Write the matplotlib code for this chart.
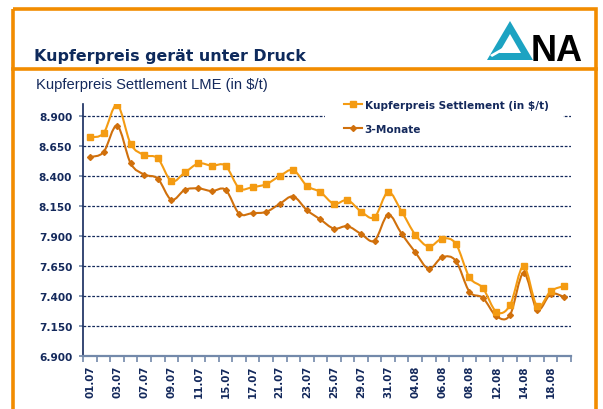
import matplotlib
matplotlib.use("Agg")
import matplotlib.pyplot as plt
from matplotlib.path import Path
from matplotlib.patches import PathPatch, Polygon, Rectangle
from matplotlib.lines import Line2D
from matplotlib.transforms import Affine2D

# Handelstage Juli/August 2008
dates = ['01.07', '02.07', '03.07', '04.07', '07.07', '08.07', '09.07', '10.07', '11.07',
         '14.07', '15.07', '16.07', '17.07', '18.07', '21.07', '22.07', '23.07', '24.07',
         '25.07', '28.07', '29.07', '30.07', '31.07', '01.08', '04.08', '05.08', '06.08',
         '07.08', '08.08', '11.08', '12.08', '13.08', '14.08', '15.08', '18.08', '19.08']

settlement = [8722, 8758, 8994, 8667, 8575, 8547, 8358, 8430, 8505, 8486, 8486, 8300,
              8308, 8333, 8400, 8450, 8319, 8267, 8169, 8200, 8105, 8058, 8267, 8105,
              7913, 7813, 7880, 7836, 7558, 7467, 7269, 7325, 7650, 7317, 7442, 7486]

three_month = [8558, 8600, 8819, 8505, 8413, 8378, 8203, 8286, 8297, 8275, 8286, 8088,
               8092, 8102, 8169, 8230, 8117, 8039, 7963, 7983, 7919, 7863, 8078, 7919,
               7767, 7628, 7725, 7694, 7438, 7386, 7233, 7244, 7594, 7289, 7419, 7394]

y_ticks = [6900, 7150, 7400, 7650, 7900, 8150, 8400, 8650, 8900]

ORANGE_FRAME = '#F28C00'
C_SETTLE = '#F49B12'
C_3M = '#D0700C'
NAVY = '#14295C'
AXIS_GREY = '#7389AA'
TEAL = '#1CA3C2'

W, H = 603, 410


def smooth_path(xs, ys):
    # Bezier-Glättung wie bei Excel "geglättete Linie"
    n = len(xs)
    verts = [(xs[0], ys[0])]
    codes = [Path.MOVETO]
    for i in range(n - 1):
        a = i - 1 if i > 0 else i
        d = i + 2 if i + 2 < n else i + 1
        c1 = (xs[i] + (xs[i + 1] - xs[a]) / 6, ys[i] + (ys[i + 1] - ys[a]) / 6)
        c2 = (xs[i + 1] - (xs[d] - xs[i]) / 6, ys[i + 1] - (ys[d] - ys[i]) / 6)
        verts += [c1, c2, (xs[i + 1], ys[i + 1])]
        codes += [Path.CURVE4] * 3
    return Path(verts, codes)


fig = plt.figure(figsize=(W / 100, H / 100), dpi=100)
fig.patch.set_facecolor('white')

# Pixel-Transform (Ursprung oben links)
px = Affine2D().scale(1 / W, -1 / H).translate(0, 1) + fig.transFigure

# Orangefarbener Rahmen
fig.add_artist(Rectangle((13, 10), 583, 420, transform=px, fill=False,
                         edgecolor=ORANGE_FRAME, linewidth=2.6, clip_on=False))
fig.add_artist(Line2D([13, 596], [69.5, 69.5], transform=px, color=ORANGE_FRAME,
                      linewidth=2.6))

# Titel
fig.text(34 / W, 1 - 61 / H, 'Kupferpreis gerät unter Druck', fontsize=11.4,
         fontweight='bold', family='DejaVu Sans', color='#0E2A5C',
         ha='left', va='baseline')
fig.text(36 / W, 1 - 89 / H, 'Kupferpreis Settlement LME (in $/t)', fontsize=10.6,
         family='Liberation Sans', color=NAVY, ha='left', va='baseline')

# Logo
fig.add_artist(Polygon([(487, 61), (510, 22), (533, 61)], closed=True, transform=px,
                       facecolor=TEAL, edgecolor='none'))
fig.add_artist(Polygon([(499, 54), (510, 35), (521, 54)], closed=True, transform=px,
                       facecolor='white', edgecolor='none'))
fig.add_artist(Polygon([(490, 56), (504, 48), (506, 50), (492, 58)], closed=True,
                       transform=px, facecolor='white', edgecolor='none'))
fig.text(531 / W, 1 - 61 / H, 'NA', fontsize=26, fontweight='heavy',
         family='Liberation Sans', color='black', ha='left', va='baseline')

# Diagramm
ax = fig.add_axes([83.3 / W, (H - 357.3) / H, (571 - 83.3) / W, (357.3 - 105) / H])
x = list(range(len(dates)))

ax.add_patch(PathPatch(smooth_path(x, three_month), facecolor='none',
                       edgecolor=C_3M, linewidth=1.5, zorder=3))
ax.plot(x, three_month, linestyle='none', marker='D', markersize=3.0,
        color=C_3M, zorder=4)
ax.add_patch(PathPatch(smooth_path(x, settlement), facecolor='none',
                       edgecolor=C_SETTLE, linewidth=1.5, zorder=5))
ax.plot(x, settlement, linestyle='none', marker='s', markersize=4.0,
        color=C_SETTLE, zorder=6)

ax.set_xlim(-0.5, len(dates) - 0.5)
ax.set_ylim(6900, 9000)

ax.set_yticks(y_ticks)
ax.set_yticklabels([f'{v:,}'.replace(',', '.') for v in y_ticks])
ax.set_xticks(x[::2])
ax.set_xticklabels(dates[::2], rotation=90)
ax.set_xticks([i - 0.5 for i in range(len(dates) + 1)], minor=True)

for lab in ax.get_yticklabels() + ax.get_xticklabels():
    lab.set_family('DejaVu Sans')
    lab.set_fontweight('bold')
    lab.set_color(NAVY)
for lab in ax.get_yticklabels():
    lab.set_fontsize(7.6)
for lab in ax.get_xticklabels():
    lab.set_fontsize(7.4)

ax.tick_params(axis='x', which='major', length=0, pad=6)
ax.tick_params(axis='x', which='minor', length=4, width=1.2, color=AXIS_GREY)
ax.tick_params(axis='y', which='major', length=3, width=1.2, color=AXIS_GREY, pad=5)

ax.yaxis.grid(True, color=NAVY, linestyle=(0, (2.2, 1.3)), linewidth=0.9)
ax.set_axisbelow(True)

for side in ['top', 'right']:
    ax.spines[side].set_visible(False)
ax.spines['left'].set_color(NAVY)
ax.spines['left'].set_linewidth(1.2)
ax.spines['bottom'].set_color(AXIS_GREY)
ax.spines['bottom'].set_linewidth(1.6)

# Legende mit weißem Hintergrund über den Gitterlinien
ax.add_patch(Rectangle((325, 92), 238, 48, transform=px, facecolor='white',
                       edgecolor='none', zorder=2))
handles = [Line2D([], [], color=C_SETTLE, marker='s', markersize=4.0, linewidth=1.5),
           Line2D([], [], color=C_3M, marker='D', markersize=3.0, linewidth=1.5)]
leg = ax.legend(handles, ['Kupferpreis Settlement (in $/t)', '3-Monate'],
                loc='upper left', bbox_to_anchor=(344 / W, 1 - 101 / H),
                bbox_transform=fig.transFigure, frameon=False, borderpad=0,
                borderaxespad=0, handlelength=1.7, handletextpad=0.25,
                labelspacing=1.3,
                prop={'family': 'DejaVu Sans', 'weight': 'bold', 'size': 7.6})
for t in leg.get_texts():
    t.set_color(NAVY)

fig.savefig('out.png', dpi=100)
